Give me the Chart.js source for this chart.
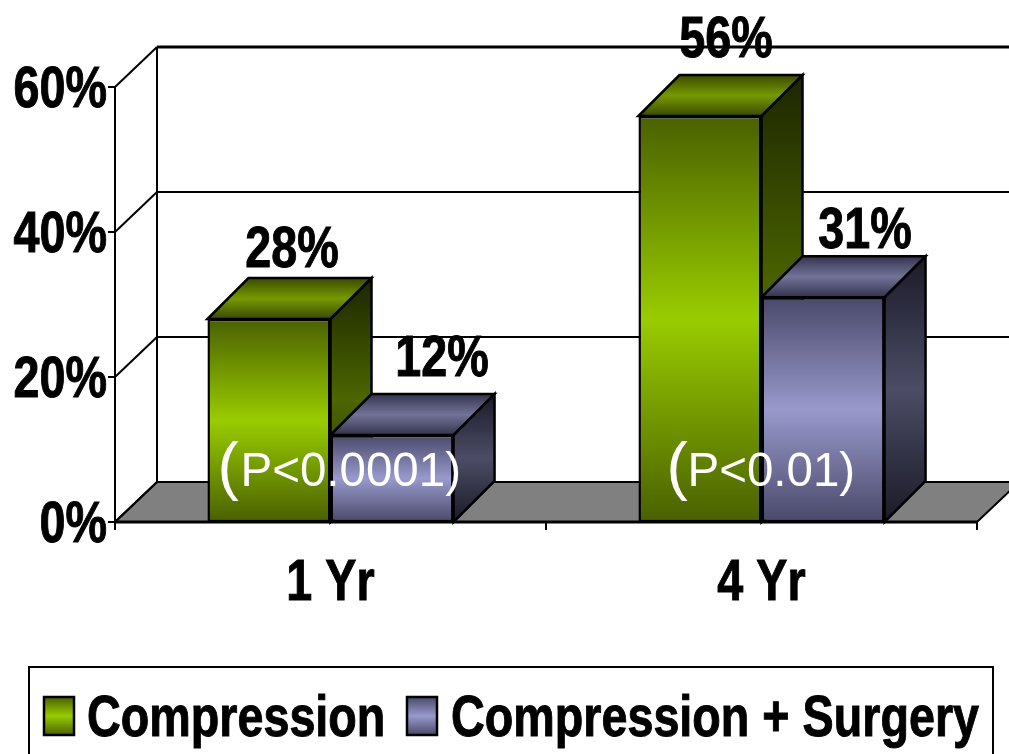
<!DOCTYPE html>
<html>
<head>
<meta charset="utf-8">
<title>Compression vs Compression + Surgery</title>
<script src="https://cdn.jsdelivr.net/npm/chart.js@4"></script>
<style>
  html, body { margin:0; padding:0; background:#fff; overflow:hidden; }
  canvas { display:block; }
</style>
</head>
<body>
<canvas id="chart" width="1009" height="754"></canvas>
<script>
// data
const categories = ['1 Yr', '4 Yr'];
const compression = [28, 56];
const compressionSurgery = [12, 31];
const pValues = ['P<0.0001', 'P<0.01'];
const yTicks = [0, 20, 40, 60];

const BOLD = 'bold 58px "Liberation Sans", Arial, sans-serif';
const THIN = '"Liberation Sans", Arial, sans-serif';
const SQUEEZE = 0.805; // the bold labels are a condensed face, no narrow font here

// 3d look
const WALL = {x:42, y:-40};
const BAR = {x:41, y:-41};
const GREEN = {edge:'#4a6000', mid:'#99cc00', topEdge:'#3a4a00', topMid:'#779900', sideEdge:'#1c2600', sideMid:'#4d6600'};
const PURPLE = {edge:'#49496a', mid:'#9999cc', topEdge:'#33334d', topMid:'#737399', sideEdge:'#1a1a28', sideMid:'#4c4c66'};

// where the value labels sit, relative to the front top of each bar
const labelShift = [
  [{x:23, y:-52}, {x:26, y:-59}],
  [{x:50, y:-59}, {x:42, y:-49}]
];
const pShift = [{paren:-113, text:-90}, {paren:-95, text:-74}];

function band(ctx, y0, y1, edge, mid){
  const g = ctx.createLinearGradient(0, y0, 0, y1);
  g.addColorStop(0, edge); g.addColorStop(0.5, mid); g.addColorStop(1, edge);
  return g;
}

function frontFill(c, col){
  const y = c.chart.scales.y;
  if(!y || c.raw === undefined) return col.mid;
  const y0 = y.getPixelForValue(c.raw), y1 = y.getPixelForValue(0);
  if(!Number.isFinite(y0) || !Number.isFinite(y1)) return col.mid;
  return band(c.chart.ctx, y0, y1, col.edge, col.mid);
}

function poly(ctx, pts, fill, stroke, lw){
  ctx.beginPath();
  pts.forEach((p,i)=> i ? ctx.lineTo(p[0],p[1]) : ctx.moveTo(p[0],p[1]));
  ctx.closePath();
  if(fill){ ctx.fillStyle = fill; ctx.fill(); }
  if(stroke){ ctx.strokeStyle = stroke; ctx.lineWidth = lw; ctx.stroke(); }
}

function line(ctx, x0, y0, x1, y1, lw){
  ctx.beginPath(); ctx.moveTo(x0,y0); ctx.lineTo(x1,y1);
  ctx.strokeStyle = '#000'; ctx.lineWidth = lw; ctx.stroke();
}

function narrowText(ctx, text, x, y, align){
  ctx.save();
  ctx.translate(x, y);
  ctx.scale(SQUEEZE, 1);
  ctx.font = BOLD; ctx.fillStyle = '#000'; ctx.strokeStyle = '#000'; ctx.lineWidth = 1;
  ctx.textAlign = align; ctx.textBaseline = 'alphabetic';
  ctx.fillText(text, 0, 0);
  ctx.strokeText(text, 0, 0); // reference face is a bit heavier
  ctx.restore();
}

const box3d = {
  id:'box3d',
  beforeDatasetsDraw(chart){
    const ctx = chart.ctx, xs = chart.scales.x, ys = chart.scales.y;
    const l = xs.left, r = xs.right, b = ys.getPixelForValue(0);
    ctx.save();

    // floor
    poly(ctx, [[l,b],[l+WALL.x,b+WALL.y],[r+WALL.x,b+WALL.y],[r,b]], '#808080', '#000', 2);

    // walls and grid
    yTicks.forEach(v=>{
      const y = ys.getPixelForValue(v);
      line(ctx, l, y, l+WALL.x, y+WALL.y, 2);
      line(ctx, l+WALL.x, y+WALL.y, r+WALL.x, y+WALL.y, v===60 ? 3 : 2);
      line(ctx, l-7, y, l, y, 2);
    });
    const top = ys.getPixelForValue(60);
    line(ctx, l, top, l, b+7, 2);
    line(ctx, l+WALL.x, top+WALL.y, l+WALL.x, b+WALL.y, 2);

    // x axis line and ticks
    line(ctx, l, b, r, b, 3);
    [l, (l+r)/2, r].forEach(x=> line(ctx, x, b, x, b+8, 2));

    // bar tops and sides
    [GREEN, PURPLE].forEach((col, d)=>{
      chart.getDatasetMeta(d).data.forEach(bar=>{
        const x0 = bar.x-bar.width/2, x1 = bar.x+bar.width/2, yt = bar.y, yb = bar.base;
        poly(ctx, [[x1,yt],[x1+BAR.x,yt+BAR.y],[x1+BAR.x,yb+BAR.y],[x1,yb]],
          band(ctx, yt+BAR.y, yb, col.sideEdge, col.sideMid), '#000', 2.5);
        poly(ctx, [[x0,yt],[x0+BAR.x,yt+BAR.y],[x1+BAR.x,yt+BAR.y],[x1,yt]],
          band(ctx, yt+BAR.y, yt, col.topEdge, col.topMid), '#000', 2.5);
      });
    });
    ctx.restore();
  },
  afterDatasetsDraw(chart){
    const ctx = chart.ctx, xs = chart.scales.x, ys = chart.scales.y;
    ctx.save();
    ctx.textBaseline = 'alphabetic';

    // axis labels, squeezed so they have to be drawn here
    ys.ticks.forEach(t=> narrowText(ctx, t.value+'%', 107, ys.getPixelForValue(t.value)+20, 'right'));
    categories.forEach((c, i)=> narrowText(ctx, c, xs.getPixelForValue(i), 600, 'center'));

    // values over the bars
    chart.data.datasets.forEach((ds, d)=>{
      chart.getDatasetMeta(d).data.forEach((bar, i)=>{
        const s = labelShift[d][i];
        narrowText(ctx, ds.data[i]+'%', bar.x+s.x, bar.y+s.y, 'center');
      });
    });

    // p values across each pair of bars
    const b = ys.getPixelForValue(0);
    ctx.fillStyle = '#fff'; ctx.textAlign = 'left';
    pValues.forEach((p, i)=>{
      const cx = xs.getPixelForValue(i);
      ctx.font = '64px '+THIN;
      ctx.fillText('(', cx+pShift[i].paren, b-34);
      ctx.font = '47.5px '+THIN;
      ctx.fillText(p+')', cx+pShift[i].text, b-36);
    });

    // legend box
    ctx.strokeStyle = '#000'; ctx.lineWidth = 2;
    ctx.strokeRect(29, 667, 964, 100);
    const items = [{x:44, tx:87, col:GREEN}, {x:407, tx:451, col:PURPLE}];
    items.forEach((it, i)=>{
      ctx.fillStyle = band(ctx, 697, 735, it.col.edge, it.col.mid);
      ctx.fillRect(it.x, 697, 30, 38);
      ctx.strokeStyle = '#000'; ctx.lineWidth = 2.5;
      ctx.strokeRect(it.x, 697, 30, 38);
      narrowText(ctx, chart.data.datasets[i].label, it.tx, 736, 'left');
    });
    ctx.restore();
  }
};

new Chart(document.getElementById('chart'), {
  type:'bar',
  data:{
    labels:categories,
    datasets:[
      {label:'Compression', data:compression, backgroundColor:c=>frontFill(c, GREEN)},
      {label:'Compression + Surgery', data:compressionSurgery, backgroundColor:c=>frontFill(c, PURPLE)}
    ]
  },
  options:{
    responsive:false,
    animation:false,
    layout:{padding:{top:87, right:32, bottom:154, left:0}},
    datasets:{bar:{categoryPercentage:0.571, barPercentage:1, borderColor:'#000', borderWidth:2.5, borderSkipped:false}},
    plugins:{legend:{display:false}, tooltip:{enabled:false}},
    scales:{
      x:{
        grid:{display:false, drawTicks:false},
        border:{display:false},
        afterFit:s=>{ s.height = 78; },
        ticks:{display:false}
      },
      y:{
        min:0, max:60,
        grid:{display:false, drawTicks:false},
        border:{display:false},
        afterBuildTicks:s=>{ s.ticks = yTicks.map(v=>({value:v})); },
        afterFit:s=>{ s.width = 115; },
        ticks:{display:false}
      }
    }
  },
  plugins:[box3d]
});
</script>
</body>
</html>
